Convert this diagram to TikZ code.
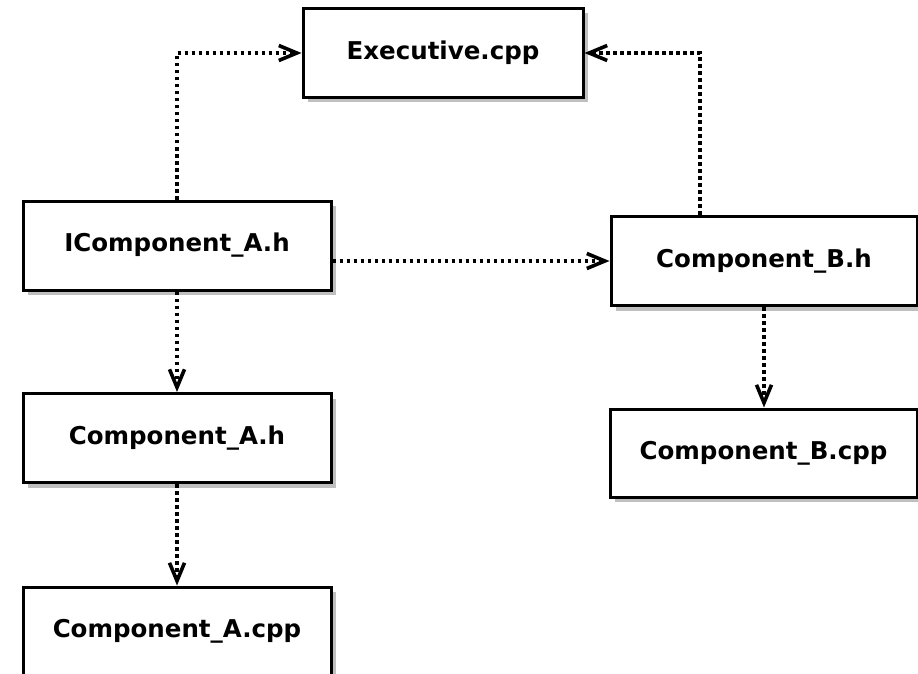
\documentclass[tikz,border=0pt]{standalone}
\usepackage{fontspec}
\setmainfont{DejaVu Sans}
\usetikzlibrary{arrows.meta,shadows}
\tikzset{
  box/.style={draw=black, line width=3pt, fill=white, minimum width=#1, minimum height=89pt,
    inner sep=0pt, font=\fontsize{24.5}{28}\selectfont\bfseries,
    drop shadow={shadow xshift=5pt, shadow yshift=-5pt, fill=gray!50, opacity=1}},
  dep/.style={line width=4pt, dash pattern=on 3.6pt off 3.4pt,
    -{Straight Barb[length=18pt,width=15pt,line width=3.6pt,line cap=butt]}}
}
\begin{document}
\begin{tikzpicture}[x=1pt,y=-1pt]
\clip (0,0) rectangle (918,674);
\fill[white] (0,0) rectangle (918,674);
\node[box=280pt] (exec) at (443,53) {Executive.cpp};
\node[box=308pt] (ica) at (177,245.5) {IComponent\_A.h};
\node[box=306pt] (cbh) at (764,261) {Component\_B.h};
\node[box=308pt] (cah) at (177,438) {Component\_A.h};
\node[box=308pt] (cacpp) at (177,631.5) {Component\_A.cpp};
\node[box=307pt, minimum height=88pt] (cbcpp) at (763.5,453) {Component\_B.cpp};
\coordinate (cbtop) at ([xshift=-64pt]cbh.north);
\coordinate (icaright) at (ica.east |- cbh.west);
\draw[dep] (ica.north) |- (exec.west);
\draw[dep] (cbtop) |- (exec.east);
\draw[dep] (icaright) -- (cbh.west);
\draw[dep] (ica.south) -- (cah.north);
\draw[dep] (cah.south) -- (cacpp.north);
\draw[dep] (cbh.south) -- (cbh.south |- cbcpp.north);
\end{tikzpicture}
\end{document}
